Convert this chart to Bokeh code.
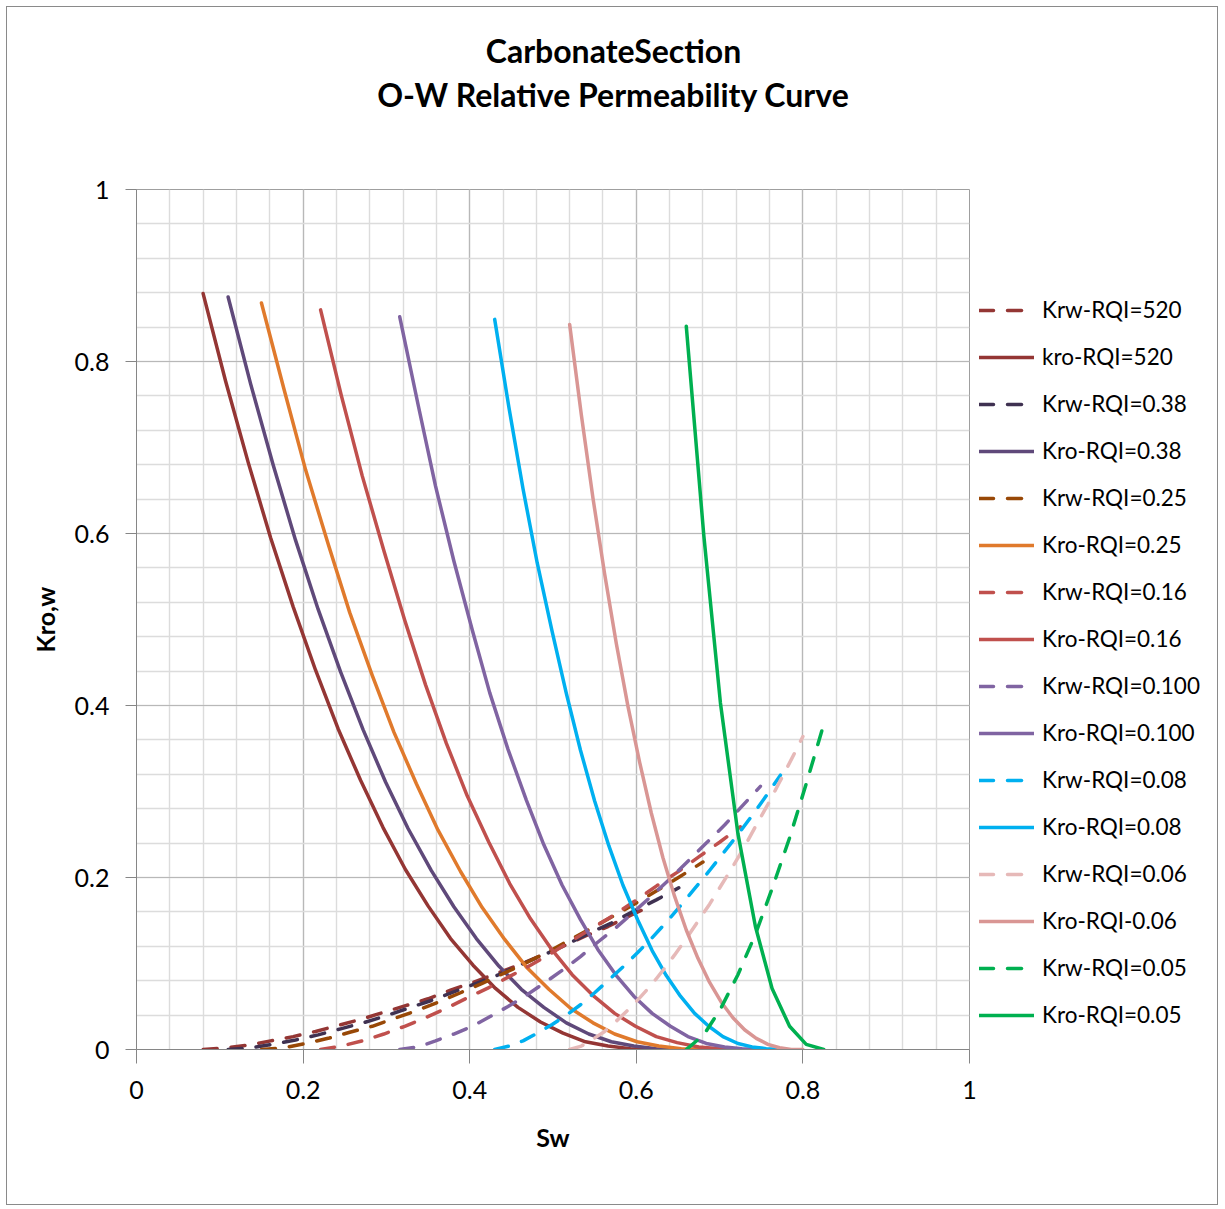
from bokeh.plotting import figure
from bokeh.layouts import column, row
from bokeh.models import Legend, LegendItem, Label, FixedTicker, Range1d
from bokeh.embed import file_html
from bokeh.resources import INLINE

# ---------------- data ----------------
sw_520 = [0.080, 0.107, 0.134, 0.161, 0.188, 0.215, 0.242, 0.269, 0.296, 0.323, 0.350,
          0.377, 0.404, 0.431, 0.458, 0.485, 0.512, 0.539, 0.566, 0.593, 0.620]
kro_520 = [0.879, 0.777, 0.683, 0.595, 0.515, 0.441, 0.373, 0.313, 0.258, 0.209, 0.167,
           0.129, 0.098, 0.071, 0.049, 0.032, 0.019, 0.009, 0.004, 0.001, 0.000]
krw_520 = [0.000, 0.002, 0.005, 0.010, 0.015, 0.021, 0.028, 0.035, 0.043, 0.051, 0.059,
           0.069, 0.078, 0.088, 0.098, 0.109, 0.120, 0.132, 0.143, 0.156, 0.168]

sw_038 = [0.110, 0.137, 0.164, 0.191, 0.218, 0.245, 0.272, 0.299, 0.326, 0.354, 0.381,
          0.408, 0.435, 0.462, 0.489, 0.516, 0.543, 0.570, 0.597, 0.624, 0.651]
kro_038 = [0.875, 0.774, 0.680, 0.592, 0.512, 0.439, 0.372, 0.311, 0.257, 0.208, 0.166,
           0.129, 0.097, 0.070, 0.049, 0.031, 0.018, 0.009, 0.004, 0.001, 0.000]
krw_038 = [0.000, 0.002, 0.006, 0.011, 0.017, 0.024, 0.031, 0.039, 0.048, 0.057, 0.067,
           0.077, 0.087, 0.099, 0.110, 0.122, 0.135, 0.147, 0.161, 0.174, 0.188]

sw_025 = [0.150, 0.177, 0.203, 0.230, 0.256, 0.283, 0.309, 0.336, 0.362, 0.389, 0.415,
          0.442, 0.468, 0.495, 0.521, 0.548, 0.574, 0.601, 0.627, 0.654, 0.680]
kro_025 = [0.868, 0.768, 0.674, 0.588, 0.508, 0.435, 0.369, 0.309, 0.255, 0.207, 0.165,
           0.128, 0.096, 0.070, 0.048, 0.031, 0.018, 0.009, 0.004, 0.001, 0.000]
krw_025 = [0.000, 0.002, 0.007, 0.013, 0.020, 0.027, 0.036, 0.045, 0.055, 0.066, 0.077,
           0.089, 0.101, 0.114, 0.128, 0.142, 0.156, 0.171, 0.186, 0.202, 0.218]

sw_016 = [0.221, 0.246, 0.271, 0.297, 0.322, 0.347, 0.372, 0.397, 0.423, 0.448, 0.473,
          0.498, 0.523, 0.549, 0.574, 0.599, 0.624, 0.649, 0.675, 0.700, 0.725]
kro_016 = [0.860, 0.760, 0.667, 0.580, 0.499, 0.424, 0.356, 0.295, 0.241, 0.193, 0.152,
           0.117, 0.087, 0.062, 0.042, 0.027, 0.015, 0.008, 0.003, 0.001, 0.000]
krw_016 = [0.000, 0.004, 0.010, 0.018, 0.027, 0.037, 0.048, 0.060, 0.072, 0.085, 0.098,
           0.112, 0.127, 0.142, 0.157, 0.173, 0.190, 0.206, 0.224, 0.241, 0.259]

sw_0100 = [0.316, 0.338, 0.359, 0.381, 0.403, 0.424, 0.446, 0.468, 0.489, 0.511, 0.533,
           0.554, 0.576, 0.597, 0.619, 0.641, 0.662, 0.684, 0.706, 0.727, 0.749]
kro_0100 = [0.852, 0.750, 0.655, 0.568, 0.488, 0.415, 0.349, 0.290, 0.238, 0.191, 0.151,
            0.116, 0.086, 0.062, 0.042, 0.027, 0.015, 0.007, 0.003, 0.001, 0.000]
krw_0100 = [0.000, 0.003, 0.010, 0.018, 0.027, 0.038, 0.050, 0.063, 0.077, 0.092, 0.108,
            0.125, 0.142, 0.160, 0.179, 0.199, 0.219, 0.240, 0.261, 0.283, 0.306]

sw_008 = [0.430, 0.447, 0.464, 0.481, 0.499, 0.516, 0.533, 0.550, 0.567, 0.584, 0.602,
          0.619, 0.636, 0.653, 0.670, 0.687, 0.704, 0.722, 0.739, 0.756, 0.773]
kro_008 = [0.849, 0.747, 0.652, 0.566, 0.486, 0.414, 0.348, 0.289, 0.237, 0.191, 0.150,
           0.115, 0.086, 0.062, 0.042, 0.027, 0.015, 0.007, 0.003, 0.001, 0.000]
krw_008 = [0.000, 0.004, 0.010, 0.019, 0.029, 0.040, 0.052, 0.066, 0.081, 0.096, 0.113,
           0.130, 0.148, 0.167, 0.187, 0.207, 0.228, 0.250, 0.272, 0.295, 0.319]

sw_006 = [0.520, 0.534, 0.548, 0.562, 0.576, 0.590, 0.604, 0.618, 0.632, 0.646, 0.660,
          0.674, 0.688, 0.702, 0.716, 0.730, 0.744, 0.758, 0.772, 0.786, 0.800]
kro_006 = [0.843, 0.738, 0.641, 0.553, 0.472, 0.399, 0.334, 0.275, 0.223, 0.178, 0.139,
           0.106, 0.078, 0.055, 0.037, 0.023, 0.013, 0.006, 0.002, 0.000, 0.000]
krw_006 = [0.000, 0.004, 0.012, 0.021, 0.033, 0.046, 0.060, 0.075, 0.092, 0.110, 0.129,
           0.149, 0.169, 0.191, 0.213, 0.236, 0.261, 0.285, 0.311, 0.337, 0.364]

sw_005 = [0.660, 0.681, 0.701, 0.722, 0.743, 0.763, 0.784, 0.804, 0.825]
kro_005 = [0.841, 0.598, 0.403, 0.251, 0.143, 0.071, 0.027, 0.006, 0.000]
krw_005 = [0.000, 0.017, 0.047, 0.087, 0.134, 0.187, 0.246, 0.309, 0.378]

series_names = ["Krw-RQI=520", "kro-RQI=520", "Krw-RQI=0.38", "Kro-RQI=0.38",
                "Krw-RQI=0.25", "Kro-RQI=0.25", "Krw-RQI=0.16", "Kro-RQI=0.16",
                "Krw-RQI=0.100", "Kro-RQI=0.100", "Krw-RQI=0.08", "Kro-RQI=0.08",
                "Krw-RQI=0.06", "Kro-RQI-0.06", "Krw-RQI=0.05", "Kro-RQI=0.05"]

axis_ticks = [0, 0.2, 0.4, 0.6, 0.8, 1]
axis_tick_labels = ["0", "0.2", "0.4", "0.6", "0.8", "1"]

title_lines = ["CarbonateSection", "O-W Relative Permeability Curve"]

# ---------------- styling ----------------
FONT = "Lato"
series = [
    (sw_520, krw_520, "#943634", True),
    (sw_520, kro_520, "#943634", False),
    (sw_038, krw_038, "#3F3151", True),
    (sw_038, kro_038, "#5F497A", False),
    (sw_025, krw_025, "#984807", True),
    (sw_025, kro_025, "#E07A2C", False),
    (sw_016, krw_016, "#C0504D", True),
    (sw_016, kro_016, "#C0504D", False),
    (sw_0100, krw_0100, "#8064A2", True),
    (sw_0100, kro_0100, "#8064A2", False),
    (sw_008, krw_008, "#00B0F0", True),
    (sw_008, kro_008, "#00B0F0", False),
    (sw_006, krw_006, "#E6B9B8", True),
    (sw_006, kro_006, "#D99694", False),
    (sw_005, krw_005, "#00B050", True),
    (sw_005, kro_005, "#00B050", False),
]
DASH = "14 14"
LW = 3.5

TOTAL_W = 1210
TITLE_H = 165
BODY_H = 1032
MAIN_W = 972
LEG_W = TOTAL_W - MAIN_W
BORDER_TOP, BORDER_BOTTOM = 17, 155


def bare(fig):
    fig.axis.visible = False
    fig.grid.visible = False
    fig.outline_line_color = None
    fig.background_fill_color = "white"
    fig.border_fill_color = "white"


# ---- title strip ----
pt = figure(width=TOTAL_W, height=TITLE_H, x_range=Range1d(7, 7 + TOTAL_W),
            y_range=Range1d(7 + TITLE_H, 7), output_backend="svg",
            toolbar_location=None, min_border=0)
bare(pt)
for txt, yv in zip(title_lines, [50, 94]):
    pt.add_layout(Label(x=613, y=yv, text=txt, text_align="center",
                        text_baseline="middle", text_font=FONT,
                        text_font_style="bold", text_font_size="32px",
                        text_color="#000000"))

# ---- main chart ----
p = figure(width=MAIN_W, height=BODY_H, x_range=Range1d(0, 1), y_range=Range1d(0, 1),
           output_backend="svg", toolbar_location=None,
           min_border_left=129, min_border_right=10, min_border_top=BORDER_TOP,
           min_border_bottom=BORDER_BOTTOM)
p.outline_line_color = "#9f9f9f"
p.background_fill_color = "white"
p.border_fill_color = "white"

minor = [round(0.04 * i, 2) for i in range(26)]
for ax in (p.xaxis[0], p.yaxis[0]):
    ax.ticker = FixedTicker(ticks=axis_ticks, minor_ticks=minor)
    ax.major_label_overrides = dict(zip(axis_ticks, axis_tick_labels))
    ax.axis_line_color = "#868686"
    ax.major_tick_line_color = "#868686"
    ax.minor_tick_line_color = None
    ax.major_tick_in = 0
    ax.major_label_text_font = FONT
    ax.major_label_text_font_size = "25px"
    ax.major_label_text_color = "#000000"
    ax.axis_label_text_font = FONT
    ax.axis_label_text_font_style = "bold"
    ax.axis_label_text_font_size = "25px"
    ax.axis_label_text_color = "#000000"

p.xaxis.major_tick_out = 14
p.xaxis.major_label_standoff = 17
p.xaxis.axis_label = "Sw"
p.xaxis.axis_label_standoff = 20
p.yaxis.major_tick_out = 11
p.yaxis.major_label_standoff = 16
p.yaxis.axis_label = "Kro,w"
p.yaxis.axis_label_standoff = 12

for g in (p.xgrid[0], p.ygrid[0]):
    g.ticker = FixedTicker(ticks=axis_ticks, minor_ticks=minor)
    g.grid_line_color = "#b8b8b8"
    g.grid_line_width = 1.2
    g.minor_grid_line_color = "#dcdcdc"
    g.minor_grid_line_width = 1.4

for xs, ys, col, dashed in series:
    p.line(xs, ys, line_color=col, line_width=LW,
           line_dash=DASH if dashed else "solid",
           line_cap="round", line_join="round")

# ---- legend panel (its own canvas so nothing is clipped) ----
pl = figure(width=LEG_W, height=BODY_H, x_range=Range1d(10, 11), y_range=Range1d(10, 11),
            output_backend="svg", toolbar_location=None,
            min_border_left=0, min_border_right=0, min_border_top=BORDER_TOP,
            min_border_bottom=BORDER_BOTTOM)
bare(pl)
items = []
for name, (xs, ys, col, dashed) in zip(series_names, series):
    # same series, drawn off-range: only its legend swatch shows
    r = pl.line(xs, ys, line_color=col, line_width=LW,
                line_dash=DASH if dashed else "solid", line_cap="round")
    items.append(LegendItem(label=name, renderers=[r]))

legend = Legend(items=items, location="top_left", orientation="vertical",
                title=" ", title_text_font_size="1px", title_standoff=106,
                glyph_width=55, glyph_height=20, label_height=20, spacing=20,
                label_standoff=8, padding=0, margin=0,
                label_text_font=FONT, label_text_font_size="22.5px",
                label_text_color="#000000",
                background_fill_alpha=0, border_line_alpha=0)
pl.add_layout(legend, "center")

layout = column(pt, row(p, pl, spacing=0), spacing=0)
layout.styles = {"border": "1px solid #8a8a8a", "margin-left": "6px", "margin-top": "6px"}

open("out.html", "w").write(file_html(layout, INLINE))
